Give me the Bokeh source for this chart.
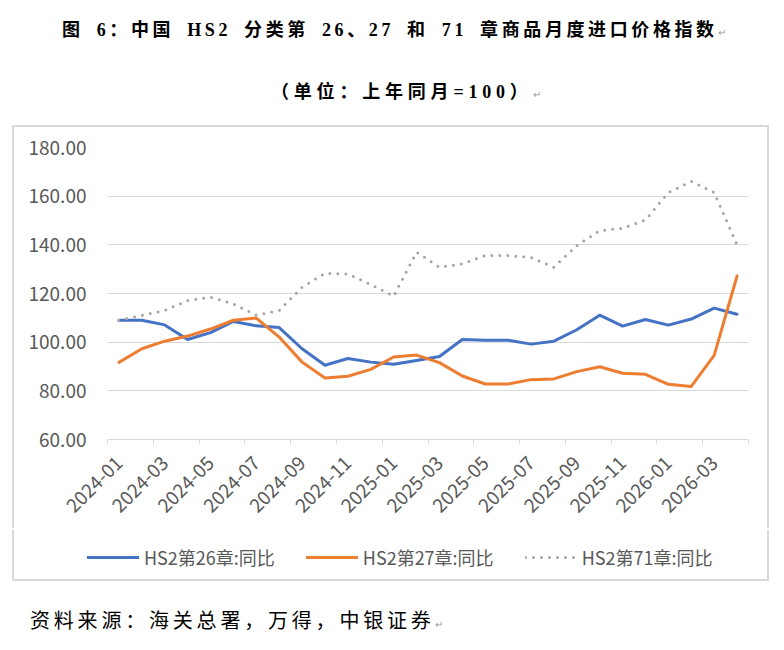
from bokeh.plotting import figure
from bokeh.models import (Range1d, FixedTicker, NumeralTickFormatter, Legend,
                          LegendItem, Div, Spacer)
from bokeh.layouts import column, row
from bokeh.embed import file_html
from bokeh.resources import INLINE
from math import pi

# ---- data ---------------------------------------------------------------
months = ["2024-01", "2024-02", "2024-03", "2024-04", "2024-05", "2024-06",
          "2024-07", "2024-08", "2024-09", "2024-10", "2024-11", "2024-12",
          "2025-01", "2025-02", "2025-03", "2025-04", "2025-05", "2025-06",
          "2025-07", "2025-08", "2025-09", "2025-10", "2025-11", "2025-12",
          "2026-01", "2026-02", "2026-03", "2026-04"]

ch26 = [109.0, 109.0, 107.1, 101.1, 103.9, 108.5, 106.7, 106.0, 97.3, 90.5,
        93.3, 91.8, 90.9, 92.5, 94.1, 101.1, 100.8, 100.8, 99.2, 100.4,
        105.1, 111.1, 106.6, 109.3, 107.0, 109.5, 114.0, 111.5]

ch27 = [91.7, 97.3, 100.4, 102.5, 105.4, 109.0, 109.9, 102.1, 91.8, 85.3,
        86.0, 88.8, 93.9, 94.7, 91.6, 86.1, 82.8, 82.8, 84.6, 84.9,
        87.9, 89.9, 87.2, 86.8, 82.7, 81.8, 94.6, 127.2]

ch71 = [109.0, 111.0, 113.0, 117.1, 118.5, 115.7, 111.1, 113.0, 122.6, 128.3,
        128.0, 123.7, 118.9, 137.0, 130.8, 132.2, 135.6, 135.6, 134.8, 130.8,
        139.7, 145.8, 146.8, 150.2, 161.5, 166.1, 161.5, 140.0]

series_names = ["HS2第26章:同比", "HS2第27章:同比", "HS2第71章:同比"]
y_ticks = [60, 80, 100, 120, 140, 160, 180]

title_text = "图 6：中国 HS2 分类第 26、27 和 71 章商品月度进口价格指数"
subtitle_text = "（单位：上年同月=100）"
source_text = "资料来源：海关总署，万得，中银证券"

# ---- styles -------------------------------------------------------------
AX_FONT = "Noto Sans CJK SC"
AX_COLOR = "#595959"
GRID = "#d9d9d9"
BOX = "2px solid #d9d9d9"
COLORS = ["#4472C4", "#ED7D31", "#A5A5A5"]
DASHES = ["solid", "solid", "0 8"]
SERIES = [ch26, ch27, ch71]

# category slots: month i is centred at i + 0.5
xs = [i + 0.5 for i in range(len(months))]
label_pos = [i + 0.5 for i in range(0, len(months), 2)]
slot_edges = list(range(0, len(months) + 1, 2))

# ---- main chart ---------------------------------------------------------
p = figure(width=757, height=403, output_backend="svg", toolbar_location=None,
           x_range=Range1d(0, len(months)), y_range=Range1d(60, 180),
           min_border_left=93, min_border_right=23, min_border_top=20,
           min_border_bottom=91, background_fill_color="white",
           border_fill_color="white", margin=(0, 0, 0, 0),
           styles={"border": BOX, "border-bottom": "none"})
p.outline_line_color = None

for vals, col, dash in zip(SERIES, COLORS, DASHES):
    p.line(xs, vals, line_color=col, line_width=3, line_join="round",
           line_cap="round", line_dash=dash)

# y axis
p.yaxis.ticker = FixedTicker(ticks=y_ticks)
p.yaxis.formatter = NumeralTickFormatter(format="0.00")
p.yaxis.axis_line_color = None
p.yaxis.major_tick_line_color = None
p.yaxis.minor_tick_line_color = None
p.yaxis.major_tick_out = 0
p.yaxis.major_tick_in = 0
p.yaxis.major_label_standoff = 21
p.yaxis.major_label_text_font = AX_FONT
p.yaxis.major_label_text_font_size = "19px"
p.yaxis.major_label_text_color = AX_COLOR
p.ygrid.ticker = FixedTicker(ticks=y_ticks)
p.ygrid.grid_line_color = GRID
p.ygrid.grid_line_width = 1

# x axis: labels at every other category, tick marks between categories
p.xgrid.grid_line_color = None
xa = p.xaxis[0]
xa.ticker = FixedTicker(ticks=label_pos, minor_ticks=slot_edges)
xa.major_label_overrides = {pos: months[i] for i, pos in
                            zip(range(0, len(months), 2), label_pos)}
xa.axis_line_color = GRID
xa.axis_line_width = 1
xa.major_tick_line_color = None
xa.minor_tick_line_color = GRID
xa.minor_tick_in = 0
xa.minor_tick_out = 5
xa.major_label_orientation = pi / 4
xa.major_label_standoff = 14
xa.major_label_text_font = AX_FONT
xa.major_label_text_font_size = "19px"
xa.major_label_text_color = AX_COLOR

# ---- legend strip (bottom of the chart box) -----------------------------
# the series are drawn again here but fall outside the strip's y range,
# so only their legend keys show
leg = figure(width=757, height=51, output_backend="svg", toolbar_location=None,
             x_range=Range1d(0, len(months)), y_range=Range1d(0, 1),
             x_axis_type=None, y_axis_type=None, min_border=0,
             background_fill_color="white", border_fill_color="white",
             margin=(0, 0, 0, 12),
             styles={"border": BOX, "border-top": "none"})
leg.outline_line_color = None
leg.xgrid.visible = False
leg.ygrid.visible = False
keys = []
for vals, col, dash in zip(SERIES, COLORS, DASHES):
    keys.append(leg.line(xs, vals, line_color=col, line_width=3,
                         line_cap="round", line_dash=dash))

legend = Legend(items=[LegendItem(label=n, renderers=[r])
                       for n, r in zip(series_names, keys)],
                orientation="horizontal", location=(73, 11),
                glyph_width=52, glyph_height=20, label_standoff=5, spacing=31,
                padding=0, margin=0, border_line_color=None,
                background_fill_alpha=0, label_text_font=AX_FONT,
                label_text_font_size="18px", label_text_color=AX_COLOR)
leg.add_layout(legend, "center")

# ---- page texts ---------------------------------------------------------
mark = '<span style="font-size:10px;color:#9a9a9a;font-weight:normal;letter-spacing:0">↵</span>'
head_html = f"""
<div style="position:relative;width:784px;height:125px;">
  <div style="position:absolute;left:62px;top:17px;white-space:nowrap;
       font-family:'Liberation Serif','Noto Sans CJK SC';font-weight:bold;
       font-size:18px;line-height:26px;letter-spacing:3.6px;word-spacing:5px;
       color:#000;">{title_text}{mark}</div>
  <div style="position:absolute;left:271px;top:79px;white-space:nowrap;
       font-family:'Liberation Serif','Noto Sans CJK SC';font-weight:bold;
       font-size:18px;line-height:26px;letter-spacing:4.8px;color:#000;">{subtitle_text}{mark}</div>
</div>"""
foot_html = f"""
<div style="position:relative;width:784px;height:67px;">
  <div style="position:absolute;left:30px;top:26px;white-space:nowrap;
       font-family:'Noto Sans CJK SC';font-size:20px;line-height:26px;
       letter-spacing:3.8px;color:#000;">{source_text}{mark}</div>
</div>"""

head = Div(text=head_html, width=784, height=125, margin=(0, 0, 0, 0))
foot = Div(text=foot_html, width=784, height=67, margin=(0, 0, 0, 0))
chart_row = row(Spacer(width=12, height=405, margin=(0, 0, 0, 0)), p,
                margin=(0, 0, 0, 0))
page = column(head, chart_row, leg, foot, margin=(0, 0, 0, 0), spacing=0)

open("out.html", "w").write(file_html(page, INLINE))
